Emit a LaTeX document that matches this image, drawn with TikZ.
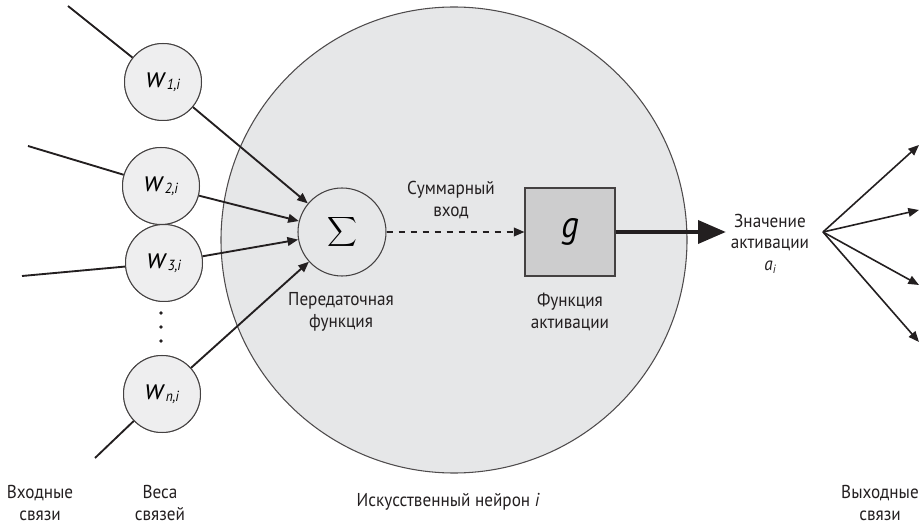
\documentclass[tikz,border=0pt]{standalone}
\usepackage{fontspec}
\setmainfont[FakeStretch=0.92]{PT Sans}
\usetikzlibrary{arrows.meta}

\definecolor{ink}{HTML}{231F20}
\definecolor{bodyfill}{HTML}{E6E7E8}
\definecolor{wfill}{HTML}{EEEEEF}
\definecolor{gfill}{HTML}{CDCDCE}

\tikzset{
  body/.style={circle, draw=ink!80, fill=bodyfill, line width=0.8pt, minimum size=349.5pt, inner sep=0pt},
  weight/.style={circle, draw=ink!85, fill=wfill, line width=0.75pt, minimum size=57.75pt, inner sep=0pt},
  summer/.style={circle, draw=ink!85, fill=bodyfill, line width=0.8pt, minimum size=66pt, inner sep=0pt},
  actbox/.style={rectangle, draw=ink!85, fill=gfill, line width=0.8pt, minimum width=67.5pt, minimum height=66pt, inner sep=0pt},
  link/.style={draw=ink, line width=1.4pt},
  arrowlink/.style={link, -{Triangle[length=8pt,width=6.5pt]}},
  lbl/.style={align=center, text=ink, font=\fontsize{14}{16}\selectfont, inner sep=0pt},
}

\newcommand{\wlab}[1]{{\fontsize{22}{22}\selectfont$\mathit{w}$}\kern0.5pt\raisebox{-0.35ex}{\fontsize{11}{11}\selectfont\itshape #1}}

\begin{document}
\begin{tikzpicture}[x=0.75pt, y=-0.75pt]
  \useasboundingbox (0,0) rectangle (922,527);

  % cell body of the artificial neuron
  \node[body] (cell) at (454,240) {};

  % transfer (summation) and activation blocks
  \node[summer] (sum) at (342,232) {\scalebox{1.55}{$\displaystyle\sum$}};
  \node[actbox] (act) at (570,232) {\fontsize{28}{28}\selectfont\itshape g};

  % weights
  \node[weight] (w1) at (163,82)  {};
  \node[weight] (w2) at (161,186) {};
  \node[weight] (w3) at (164,263) {};
  \node[weight] (wn) at (162,394) {};

  % vertical ellipsis between w3 and wn
  \foreach \yy in {313,327,341} \fill[ink] (161,\yy) circle (1.8);

  % loose ends of the input connections
  \coordinate (in1) at (68,6);
  \coordinate (in2) at (28,146);
  \coordinate (in3) at (22,276);
  \coordinate (in4) at (95,458);

  % input connections into the weights
  \draw[link] (in1) -- (w1);
  \draw[link] (in2) -- (w2);
  \draw[link] (in3) -- (w3);
  \draw[link] (in4) -- (wn);

  % weighted inputs into the summation
  \draw[arrowlink] (w1) -- (sum);
  \draw[arrowlink] (w2) -- (sum);
  \draw[arrowlink] (w3) -- (sum);
  \draw[arrowlink] (wn) -- (sum);

  % weights drawn on top of the links
  \node[weight] at (w1) {\wlab{1,i}};
  \node[weight] at (w2) {\wlab{2,i}};
  \node[weight] at (w3) {\wlab{3,i}};
  \node[weight] at (wn) {\wlab{n,i}};

  % net input
  \draw[draw=ink, line width=1.3pt, dash pattern=on 5pt off 4pt,
        -{Triangle[length=8pt,width=6.5pt]}] (sum) -- (act);
  \node[lbl] (netin) at (451,200) {Суммарный\\вход};

  % activation output
  \coordinate (tip) at (726,232);
  \draw[draw=ink, line width=3.5pt, -{Triangle[length=21pt,width=17pt]}] (act.east) -- (tip);

  \node[lbl] (actval) at (770,244) {Значение\\активации\\{\itshape a}\raisebox{-0.4ex}{\fontsize{9}{9}\selectfont\itshape i}};

  % output connections
  \coordinate (fan) at (823,232);
  \coordinate (o1) at (919,145);
  \coordinate (o2) at (919,210);
  \coordinate (o3) at (919,285);
  \coordinate (o4) at (919,342);
  \foreach \o in {o1,o2,o3,o4}
    \draw[arrowlink, line width=1.2pt] (fan) -- (\o);

  % block captions
  \node[lbl] (sumcap) at (341,312) {Передаточная\\функция};
  \node[lbl] (actcap) at (570,312) {Функция\\активации};

  % bottom captions
  \node[lbl] (incap)   at (40,503)  {Входные\\связи};
  \node[lbl] (wcap)    at (160,503) {Веса\\связей};
  \node[lbl] (cellcap) at (448,502) {Искусственный нейрон {\itshape i}};
  \node[lbl] (outcap)  at (880,503) {Выходные\\связи};
\end{tikzpicture}
\end{document}
